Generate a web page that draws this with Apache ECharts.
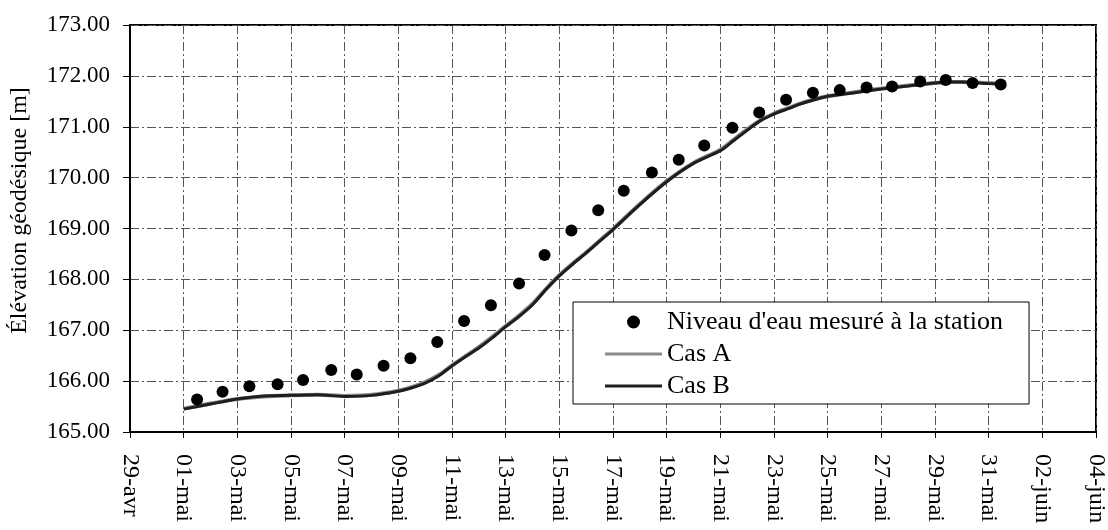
<!DOCTYPE html>
<html>
<head>
<meta charset="utf-8">
<title>Élévation géodésique</title>
<script src="https://cdn.jsdelivr.net/npm/echarts@6.0.0/dist/echarts.min.js"></script>
<style>
  html, body { margin: 0; padding: 0; background: #fff; }
  #chart { width: 1108px; height: 530px; }
</style>
</head>
<body>
<div id="chart"></div>
<script>
// axe des x : jours depuis le 29 avril
const tickLabels = ['29-avr', '01-mai', '03-mai', '05-mai', '07-mai', '09-mai', '11-mai', '13-mai', '15-mai',
    '17-mai', '19-mai', '21-mai', '23-mai', '25-mai', '27-mai', '29-mai', '31-mai', '02-juin', '04-juin'];

// niveau d'eau mesuré à la station (une lecture par jour)
const measDays = [2.5, 3.45, 4.45, 5.5, 6.45, 7.5, 8.45, 9.45, 10.45, 11.45, 12.45, 13.45, 14.5, 15.45, 16.45,
    17.45, 18.4, 19.45, 20.45, 21.4, 22.45, 23.45, 24.45, 25.45, 26.45, 27.45, 28.4, 29.45, 30.4, 31.4, 32.45];
const measLevel = [165.64, 165.79, 165.90, 165.94, 166.02, 166.22, 166.13, 166.30, 166.45, 166.77, 167.18,
    167.49, 167.92, 168.48, 168.96, 169.36, 169.74, 170.10, 170.35, 170.63, 170.98, 171.28, 171.53, 171.67,
    171.72, 171.77, 171.79, 171.89, 171.92, 171.86, 171.83];

// simulations
const simDays = [2.0, 3.0, 4.0, 5.0, 6.0, 7.0, 8.0, 9.0, 10.0, 10.5, 11.0, 11.5, 12.0, 12.5, 13.0, 13.5, 14.0,
    14.5, 15.0, 15.5, 16.0, 16.5, 17.0, 17.5, 18.0, 19.0, 20.0, 21.0, 22.0, 22.5, 23.0, 23.5, 24.0, 24.5, 25.0,
    25.5, 26.0, 27.0, 28.0, 29.0, 30.0, 30.5, 31.0, 32.0, 32.45];
const casA = [165.46, 165.56, 165.65, 165.70, 165.72, 165.73, 165.71, 165.73, 165.81, 165.88, 165.98, 166.12,
    166.31, 166.49, 166.67, 166.87, 167.08, 167.29, 167.52, 167.81, 168.08, 168.31, 168.53, 168.76, 168.99,
    169.48, 169.93, 170.29, 170.55, 170.75, 170.95, 171.13, 171.26, 171.36, 171.46, 171.54, 171.60, 171.68,
    171.75, 171.81, 171.86, 171.88, 171.88, 171.86, 171.85];
const casB = [165.45, 165.55, 165.65, 165.71, 165.72, 165.73, 165.70, 165.72, 165.80, 165.87, 165.96, 166.10,
    166.30, 166.48, 166.65, 166.85, 167.07, 167.27, 167.50, 167.80, 168.07, 168.30, 168.52, 168.75, 168.98,
    169.47, 169.92, 170.28, 170.53, 170.73, 170.93, 171.12, 171.25, 171.35, 171.45, 171.53, 171.60, 171.67,
    171.74, 171.80, 171.86, 171.88, 171.88, 171.85, 171.84];

const serif = '"Liberation Serif", "Times New Roman", serif';
const gridLine = { show: true, lineStyle: { color: '#555', width: 1, type: [9, 3, 2, 3] } };
// trait horizontal pour la légende des courbes
const lineIcon = 'path://M0,0 L57,0 L57,3 L0,3 Z';

const zip = (xs, ys) => xs.map((x, i) => [x, ys[i]]);

const chart = echarts.init(document.getElementById('chart'));
chart.setOption({
    animation: false,
    backgroundColor: '#fff',
    grid: {
        left: 130,
        top: 25,
        right: 10,
        bottom: 98,
        show: true,
        borderColor: '#000',
        borderWidth: 2
    },
    legend: {
        orient: 'vertical',
        left: 573,
        top: 302,
        padding: [7, 26, 5, 32],
        itemGap: 6,
        itemWidth: 57,
        itemHeight: 13,
        backgroundColor: '#fff',
        borderColor: '#000',
        borderWidth: 1,
        borderRadius: 0,
        textStyle: { fontFamily: serif, fontSize: 26, lineHeight: 26, color: '#000' },
        data: [
            { name: "Niveau d'eau mesuré à la station", icon: 'circle' },
            { name: 'Cas A', icon: lineIcon },
            { name: 'Cas B', icon: lineIcon }
        ]
    },
    xAxis: {
        type: 'value',
        min: 0,
        max: 36,
        interval: 2,
        axisLine: { show: true, lineStyle: { color: '#000', width: 2 } },
        axisTick: { show: true, inside: false, length: 6, lineStyle: { color: '#000' } },
        axisLabel: {
            rotate: -90,
            margin: 22,
            fontFamily: serif,
            fontSize: 24,
            color: '#000',
            formatter: v => tickLabels[Math.round(v / 2)]
        },
        splitLine: gridLine
    },
    yAxis: {
        type: 'value',
        min: 165,
        max: 173,
        interval: 1,
        name: 'Élévation géodésique [m]',
        nameLocation: 'middle',
        nameRotate: 90,
        nameGap: 98,
        nameTextStyle: { fontFamily: serif, fontSize: 24, color: '#000', padding: [0, 0, 0, 36] },
        axisLine: { show: true, lineStyle: { color: '#000', width: 2 } },
        axisTick: { show: true, inside: false, length: 7, lineStyle: { color: '#000' } },
        axisLabel: {
            margin: 20,
            fontFamily: serif,
            fontSize: 23,
            color: '#000',
            formatter: v => v.toFixed(2)
        },
        splitLine: gridLine
    },
    series: [
        {
            name: 'Cas A',
            type: 'line',
            data: zip(simDays, casA),
            symbol: 'none',
            smooth: 0.3,
            z: 2,
            itemStyle: { color: '#8a8a8a' },
            lineStyle: { color: '#8a8a8a', width: 4 }
        },
        {
            name: 'Cas B',
            type: 'line',
            data: zip(simDays, casB),
            symbol: 'none',
            smooth: 0.3,
            z: 3,
            itemStyle: { color: '#1e1e1e' },
            lineStyle: { color: '#1e1e1e', width: 3 }
        },
        {
            name: "Niveau d'eau mesuré à la station",
            type: 'scatter',
            data: zip(measDays, measLevel),
            symbol: 'circle',
            symbolSize: 12,
            z: 4,
            itemStyle: { color: '#000', opacity: 1 }
        }
    ]
});
</script>
</body>
</html>
